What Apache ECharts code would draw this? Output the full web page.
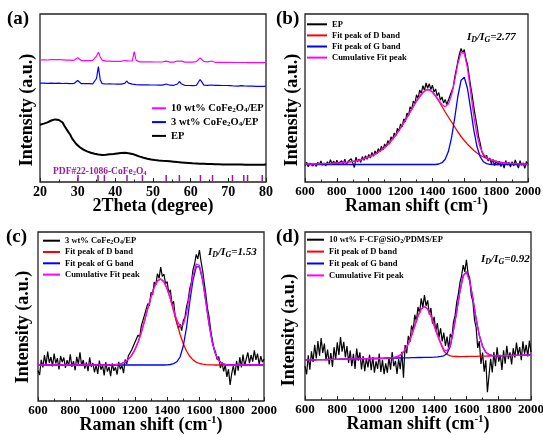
<!DOCTYPE html>
<html><head><meta charset="utf-8">
<script src="https://cdn.jsdelivr.net/npm/echarts/dist/echarts.min.js"></script>
<style>html,body{margin:0;padding:0;background:#fff;}#c{width:543px;height:435px;}</style>
</head><body><div id="c"></div>
<script>
// ---------- Panel (a): XRD ----------
const xrdX = [20,20.5,21,21.5,22,22.5,23,23.5,24,24.5,
25,25.5,26,26.5,27,27.5,28,28.5,29,29.5,
30,30.5,31,31.5,32,32.5,33,33.5,34,34.5,
35,35.5,36,36.5,37,37.5,38,38.5,39,39.5,
40,40.5,41,41.5,42,42.5,43,43.5,44,44.5,
45,45.5,46,46.5,47,47.5,48,48.5,49,49.5,
50,50.5,51,51.5,52,52.5,53,53.5,54,54.5,
55,55.5,56,56.5,57,57.5,58,58.5,59,59.5,
60,60.5,61,61.5,62,62.5,63,63.5,64,64.5,
65,65.5,66,66.5,67,67.5,68,68.5,69,69.5,
70,70.5,71,71.5,72,72.5,73,73.5,74,74.5,
75,75.5,76,76.5,77,77.5,78,78.5,79,79.5,80];
const xrdEP = [57.3,56.8,58.4,58.0,59.6,59.4,61.5,60.9,62.6,61.7,
62.0,60.2,59.5,56.0,54.2,50.1,47.5,43.6,41.9,38.5,
37.6,35.0,34.5,32.4,32.6,30.6,30.9,29.2,29.8,28.2,
28.9,27.5,28.4,27.1,28.2,27.3,28.6,27.7,28.9,28.1,
29.4,28.6,30.0,29.1,30.3,29.2,30.1,28.8,29.5,28.1,
28.5,26.8,27.1,25.4,25.8,24.2,24.7,23.2,23.7,22.4,
23.1,21.9,22.7,21.5,22.3,21.2,22.1,21.0,21.9,20.7,
21.5,20.3,21.1,19.9,20.7,19.6,20.4,19.3,20.2,19.0,
19.8,18.7,19.6,18.5,19.4,18.3,19.2,18.2,19.0,18.0,
18.9,17.9,18.7,17.8,18.6,17.7,18.5,17.6,18.4,17.6,
18.4,17.5,18.3,17.5,18.3,17.4,18.2,17.4,18.2,17.3,
18.1,17.3,18.1,17.3,18.0,17.2,18.0,17.2,17.9,17.2,17.8];
const xrd3wt = [98.8,98.3,98.9,98.2,98.7,98.4,98.9,98.1,98.6,98.2,
98.8,98.0,98.5,98.1,98.6,97.9,98.4,98.0,98.5,98.6,
101.5,100.2,98.3,97.8,98.3,97.9,98.4,97.8,98.2,98.6,
103.5,115.3,102.0,98.4,99.6,98.0,97.6,98.1,97.5,98.0,
97.4,97.9,97.4,97.8,97.5,98.6,101.0,98.9,97.4,97.8,
98.4,97.3,97.7,97.2,97.9,97.2,97.6,97.1,97.5,97.0,
97.4,97.0,97.3,96.9,97.3,96.9,97.4,98.0,97.1,96.8,
97.2,96.7,97.1,98.0,100.5,98.3,96.9,96.5,97.0,96.5,
96.9,96.4,96.8,96.5,98.2,102.5,99.8,96.9,96.4,96.7,
96.3,97.0,96.3,96.6,96.2,96.6,96.1,96.5,96.1,96.5,
96.1,96.4,96.7,96.0,96.3,95.9,96.3,96.4,97.1,96.0,
96.2,95.8,96.2,95.8,96.1,95.7,96.1,95.7,96.0,95.6,96.0];
const xrd10wt = [122.0,121.6,122.1,121.5,122.0,121.7,122.3,121.9,122.4,122.0,
122.5,121.8,122.2,121.6,121.9,121.3,121.8,121.2,121.7,122.0,
124.2,122.6,121.4,121.0,121.5,120.9,121.4,121.0,121.6,122.4,
125.8,129.7,125.0,121.9,121.7,120.9,121.3,120.8,121.2,120.7,
121.1,120.6,121.0,120.6,121.0,121.5,122.8,121.2,120.6,121.0,
130.3,121.8,120.5,120.1,120.7,120.2,120.6,120.1,120.6,120.1,
120.5,120.0,120.5,120.0,120.4,120.0,120.5,120.8,120.2,119.9,
120.4,119.9,120.3,121.0,122.0,120.9,120.1,119.8,120.2,119.8,
120.2,119.8,120.2,120.4,122.0,124.0,122.6,120.6,119.8,120.1,
120.3,121.0,120.0,119.7,120.1,119.6,120.0,119.6,120.0,119.6,
119.9,119.6,120.0,119.5,119.9,119.5,119.9,119.5,120.0,119.5,
119.8,119.4,119.8,119.4,119.8,119.4,119.7,119.3,119.7,119.3,119.7];
const pdfPos = [30.1,35.4,37.1,43.1,47.2,53.5,57.0,62.6,65.8,71.1,74.1,75.1,79.0];
const pdfHeight = [7,7,7,7,7,7,7,7,7,7,7,7,7];

// ---------- Raman x grids ----------
const ramanX = [600,610,620,630,640,650,660,670,680,690,
700,710,720,730,740,750,760,770,780,790,
800,810,820,830,840,850,860,870,880,890,
900,910,920,930,940,950,960,970,980,990,
1000,1010,1020,1030,1040,1050,1060,1070,1080,1090,
1100,1110,1120,1130,1140,1150,1160,1170,1180,1190,
1200,1210,1220,1230,1240,1250,1260,1270,1280,1290,
1300,1310,1320,1330,1340,1350,1360,1370,1380,1390,
1400,1410,1420,1430,1440,1450,1460,1470,1480,1490,
1500,1510,1520,1530,1540,1550,1560,1570,1580,1590,
1600,1610,1620,1630,1640,1650,1660,1670,1680,1690,
1700,1710,1720,1730,1740,1750,1760,1770,1780,1790,
1800,1810,1820,1830,1840,1850,1860,1870,1880,1890,
1900,1910,1920,1930,1940,1950,1960,1970,1980,1990,2000];
const fitX = [600,620,640,660,680,700,720,740,760,780,
800,820,840,860,880,900,920,940,960,980,
1000,1020,1040,1060,1080,1100,1120,1140,1160,1180,
1200,1220,1240,1260,1280,1300,1320,1340,1360,1380,
1400,1420,1440,1460,1480,1500,1520,1540,1560,1580,
1600,1620,1640,1660,1680,1700,1720,1740,1760,1780,
1800,1820,1840,1860,1880,1900,1920,1940,1960,1980,2000];

// ---------- Panel (b): EP ----------
const rawB = [16.5,19.8,15.2,18.9,20.5,16.0,18.7,15.4,19.6,17.3,
21.0,16.8,19.1,15.9,20.2,17.6,22.4,18.0,20.9,17.2,
21.8,18.5,16.9,21.2,18.3,22.9,17.4,20.6,19.0,23.3,
18.9,14.5,24.8,20.0,23.1,19.6,25.4,21.8,26.2,22.7,
27.5,23.9,29.6,25.8,31.0,27.9,33.4,30.2,35.8,32.1,
38.0,35.2,41.4,38.0,45.2,42.6,48.9,46.0,53.6,50.8,
58.0,55.1,63.2,60.4,69.0,66.1,75.3,72.5,81.0,78.4,
87.2,83.6,92.0,88.5,96.3,91.7,99.0,93.8,98.4,92.5,
96.8,89.9,93.0,86.2,89.5,81.8,85.0,78.9,82.6,77.5,
81.8,80.1,90.5,94.2,104.8,112.6,121.0,128.3,133.5,129.0,
132.4,123.0,117.6,106.5,96.0,86.4,74.8,65.2,56.0,45.3,
38.6,30.2,29.5,24.1,26.8,20.9,24.0,18.2,22.6,16.4,
21.3,17.0,20.8,15.5,19.9,13.8,21.5,17.1,19.6,14.9,
20.4,16.2,22.0,17.5,14.0,21.3,16.8,19.2,13.6,20.5,17.0];
const dFitB = [17.9,17.9,18.0,18.0,18.1,18.2,18.3,18.4,18.5,18.7,
18.9,19.1,19.4,19.7,20.1,20.6,21.2,21.9,22.7,23.7,
24.9,26.3,27.9,29.8,32.0,34.5,37.5,41.0,45.0,49.3,
54.0,59.0,64.5,70.0,75.5,81.0,85.5,89.5,92.1,92.2,
90.0,86.0,81.0,75.5,70.0,65.0,60.0,55.0,50.0,45.5,
41.5,37.8,34.5,31.5,29.0,26.8,25.0,23.5,22.3,21.3,
20.5,19.9,19.4,19.0,18.7,18.5,18.3,18.1,18.0,17.9,17.8];
const gFitB = [17.5,17.5,17.5,17.5,17.5,17.5,17.5,17.5,17.5,17.5,
17.5,17.5,17.5,17.5,17.5,17.5,17.5,17.5,17.5,17.5,
17.5,17.5,17.5,17.5,17.5,17.5,17.5,17.5,17.5,17.5,
17.5,17.5,17.5,17.5,17.5,17.5,17.5,17.5,17.5,17.5,
17.5,17.5,18.0,19.3,22.7,30.4,44.3,64.2,86.0,101.8,
104.8,93.5,73.1,51.7,35.2,25.2,20.3,18.4,17.7,17.5,
17.5,17.5,17.5,17.5,17.5,17.5,17.5,17.5,17.5,17.5,17.5];
const cumFitB = [17.9,17.9,18.0,18.0,18.1,18.2,18.3,18.4,18.5,18.7,
18.9,19.1,19.4,19.7,20.1,20.6,21.2,21.9,22.7,23.7,
24.9,26.3,27.9,29.8,32.0,34.5,37.5,41.0,45.0,49.3,
54.0,59.0,64.5,70.0,75.5,81.0,85.5,89.5,92.1,92.2,
90.0,86.0,81.5,77.3,75.2,77.9,86.8,101.7,118.5,129.8,
128.8,113.8,90.1,65.7,46.7,34.5,27.8,24.4,22.5,21.3,
20.5,19.9,19.4,19.0,18.7,18.5,18.3,18.1,18.0,17.9,17.8];

// ---------- Panel (c): 3 wt% CoFe2O4/EP ----------
const rawC = [30.5,26.0,41.2,33.5,45.8,36.0,49.5,38.2,44.0,34.7,
47.3,37.5,42.8,31.6,45.0,38.8,43.5,33.0,40.9,35.2,
46.6,34.1,39.8,30.7,44.2,36.9,48.7,35.3,41.0,32.4,
38.6,29.8,43.7,34.0,37.9,28.5,36.2,27.0,40.5,31.3,
35.8,25.6,38.9,29.4,34.1,24.8,37.5,30.2,33.7,26.5,
39.1,31.8,35.4,27.9,41.5,37.0,45.3,43.6,51.0,50.2,
58.4,57.1,66.0,63.8,75.2,73.5,86.1,84.4,97.3,95.0,
108.6,106.2,118.9,116.1,127.4,122.6,133.8,124.5,127.0,117.3,
119.4,108.0,111.2,96.5,99.8,84.3,86.0,72.6,76.9,70.3,
80.4,83.5,94.1,100.6,112.3,118.5,131.2,137.0,146.5,142.0,
150.8,139.5,130.4,118.0,106.3,92.4,84.0,70.5,60.8,52.6,
48.9,41.3,44.5,33.0,38.7,29.5,36.1,24.2,31.8,16.0,
27.4,35.5,25.6,40.2,30.3,43.8,33.6,46.5,35.0,42.1,
48.5,37.8,46.0,39.4,50.7,41.2,47.3,36.5,44.8,38.9,42.0];
const dFitC = [36,36,36,36,36,36,36,36,36,36,
36,36,36,36,36,36,36,36,36,36,
36.0,36.0,36.1,36.2,36.4,36.9,37.7,39.2,41.7,45.6,
51.3,59.0,68.8,80.2,92.4,104.1,113.8,120.1,122.0,119.2,
112.1,101.9,90.0,77.9,66.7,57.3,50.0,44.7,41.1,38.8,
37.5,36.8,36.4,36.2,36.1,36,36,36,36,36,
36,36,36,36,36,36,36,36,36,36,36];
const gFitC = [36,36,36,36,36,36,36,36,36,36,
36,36,36,36,36,36,36,36,36,36,
36,36,36,36,36,36,36,36,36,36,
36,36,36,36,36,36,36,36,36,36,
36.1,36.5,37.4,39.2,44.0,55.0,73.5,99.0,120.7,134.2,
134.2,120.7,99.0,76.4,58.3,46.7,40.4,37.6,36.5,36.1,
36,36,36,36,36,36,36,36,36,36,36];
const cumFitC = [36,36,36,36,36,36,36,36,36,36,
36,36,36,36,36,36,36,36,36,36,
36.0,36.0,36.1,36.2,36.4,36.9,37.7,39.2,41.7,45.6,
51.3,59.0,68.8,80.2,92.4,104.1,113.8,120.1,122.0,119.2,
112.2,102.4,91.4,81.1,74.7,76.3,87.5,107.7,125.8,137.0,
135.7,121.5,99.4,76.6,58.4,46.7,40.4,37.6,36.5,36.1,
36,36,36,36,36,36,36,36,36,36,36];

// ---------- Panel (d): 10 wt% F-CF@SiO2/PDMS/EP ----------
const rawD = [34.0,25.5,44.8,30.2,48.6,38.0,55.3,41.5,58.9,44.2,
62.0,47.1,56.4,39.8,50.5,35.6,47.0,33.1,52.8,40.4,
57.6,45.0,63.0,48.3,58.1,42.6,53.9,37.2,49.5,33.8,
46.2,31.0,51.4,39.3,47.7,30.6,44.0,28.9,41.8,32.5,
45.3,29.7,43.0,27.4,38.6,31.2,46.4,28.0,40.1,25.8,
36.7,27.3,42.5,30.4,47.9,33.7,39.2,26.1,41.0,30.8,
48.3,22.4,55.0,46.7,64.2,58.0,74.5,69.1,85.3,78.6,
93.0,86.8,101.7,92.4,104.9,94.1,99.6,85.5,92.0,76.3,
83.2,68.5,77.0,62.4,71.8,58.6,67.3,54.0,63.5,50.9,
66.1,62.0,78.4,84.6,97.9,106.2,117.5,124.0,134.8,128.1,
140.2,126.5,122.0,104.3,98.7,80.2,72.5,52.1,58.8,36.0,
47.5,28.3,39.6,7.7,24.8,41.2,27.5,48.0,33.9,52.6,
38.4,45.1,30.0,49.7,36.2,54.3,40.8,47.6,35.5,51.8,
42.3,57.4,44.9,53.0,39.7,58.6,46.2,55.1,43.5,59.3,48.0];
const dFitD = [40.0,40.1,40.1,40.2,40.3,40.4,40.4,40.5,40.6,40.6,
40.7,40.8,40.8,40.9,41.0,41.1,41.1,41.2,41.3,41.3,
41.4,41.5,41.5,41.6,41.7,41.8,41.8,42.2,42.8,43.8,
46.1,50.1,56.1,64.5,74.3,83.9,90.9,93.6,91.1,84.1,
74.7,65.1,56.8,49.0,45.6,44.2,43.6,43.5,43.4,43.4,
43.5,43.6,43.6,43.7,43.8,43.9,43.9,44.0,44.1,44.1,
44.2,44.3,44.3,44.4,44.5,44.6,44.6,44.7,44.8,44.8,44.9];
const gFitD = [40.0,40.1,40.1,40.2,40.3,40.4,40.4,40.5,40.6,40.6,
40.7,40.8,40.8,40.9,41.0,41.1,41.1,41.2,41.3,41.3,
41.4,41.5,41.5,41.6,41.7,41.8,41.8,41.9,42.0,42.0,
42.1,42.2,42.2,42.3,42.4,42.5,42.5,42.6,42.7,42.7,
42.8,43.1,43.6,44.2,46.6,53.7,70.0,88.7,109.0,124.2,
128.2,119.3,101.3,81.2,64.5,53.7,47.8,45.3,44.5,44.2,
44.2,44.3,44.3,44.4,44.5,44.6,44.6,44.7,44.8,44.8,44.9];
const cumFitD = [40.0,40.1,40.1,40.2,40.3,40.4,40.4,40.5,40.6,40.6,
40.7,40.8,40.8,40.9,41.0,41.1,41.1,41.2,41.3,41.3,
41.4,41.5,41.5,41.6,41.7,41.8,41.8,42.2,42.8,43.8,
46.1,50.1,56.1,64.5,74.3,83.9,90.9,93.6,91.1,84.1,
74.7,65.3,57.5,50.2,49.1,54.7,70.4,88.9,109.0,124.2,
128.2,119.3,101.3,81.2,64.5,53.7,47.8,45.3,44.5,44.2,
44.2,44.3,44.3,44.4,44.5,44.6,44.6,44.7,44.8,44.8,44.9];

const xrdTicks = {min:20, max:80, interval:10};
const ramanTicks = {min:600, max:2000, interval:200};

// ---------- chart ----------
const FF = '"Liberation Serif","Times New Roman",serif';
const zip = (xs, ys) => xs.map((x, i) => [x, ys[i]]);
const LABELS = {
  'a10':'10 wt% CoFe{sub|2}O{sub|4}/EP', 'a3':'3 wt% CoFe{sub|2}O{sub|4}/EP', 'aEP':'EP',
  'bEP':'EP', 'bD':'Fit peak of D band', 'bG':'Fit peak of G band', 'bC':'Cumulative Fit peak',
  'cEP':'3 wt% CoFe{sub|2}O{sub|4}/EP', 'cD':'Fit peak of D band', 'cG':'Fit peak of G band', 'cC':'Cumulative Fit peak',
  'dEP':'10 wt% F-CF@SiO{sub|2}/PDMS/EP', 'dD':'Fit peak of D band', 'dG':'Fit peak of G band', 'dC':'Cumulative Fit peak'
};
function line(name, idx, xs, ys, color, width, z) {
  return {name, type:'line', xAxisIndex:idx, yAxisIndex:idx, data:zip(xs, ys),
    showSymbol:false, symbol:'none', color, lineStyle:{color, width}, itemStyle:{color},
    z, silent:true, animation:false, emphasis:{disabled:true}};
}
const gridsDef = [
  {left:40, top:14, width:226, height:168},
  {left:305, top:14, width:223, height:168},
  {left:38, top:232, width:226, height:169},
  {left:305, top:232, width:226, height:168}
];
const yMax = [168, 168, 169, 168];
function xAxis(i, t, name, fs, gap) {
  return Object.assign({type:'value', gridIndex:i, name, nameLocation:'middle', nameGap:gap,
    nameMoveOverlap:false,
    nameTextStyle:{fontFamily:FF, fontWeight:'bold', fontSize:18, color:'#000', lineHeight:20,
      rich:{sup:{fontFamily:FF, fontWeight:'bold', fontSize:11, lineHeight:8, verticalAlign:'top', color:'#000'}}},
    axisLine:{show:false},
    axisTick:{show:true, inside:true, length:4, lineStyle:{color:'#222', width:1}},
    minorTick:{show:true, splitNumber:2, length:2.5, lineStyle:{color:'#222', width:1}},
    splitLine:{show:false}, minorSplitLine:{show:false},
    axisLabel:{fontFamily:FF, fontWeight:'bold', fontSize:fs, color:'#000', margin:3, hideOverlap:false,
      formatter:(v) => String(v)}}, t);
}
function yAxis(i) {
  return {type:'value', gridIndex:i, min:0, max:yMax[i], axisLine:{show:false}, axisTick:{show:false},
    axisLabel:{show:false}, splitLine:{show:false}};
}
function legend(data, left, top, iw, fs, lh, gap, subFs) {
  return {data, orient:'vertical', left, top, padding:0, itemWidth:iw, itemHeight:2, itemGap:gap,
    icon:'rect', selectedMode:false, formatter:(n) => LABELS[n],
    textStyle:{fontFamily:FF, fontWeight:'bold', fontSize:fs, lineHeight:lh, color:'#000',
      rich:{sub:{fontFamily:FF, fontWeight:'bold', fontSize:subFs, lineHeight:subFs*0.55, verticalAlign:'bottom', color:'#000'}}}};
}
const ratioStyle = {
  i:{fontFamily:FF, fontStyle:'italic', fontWeight:'bold', fontSize:11, lineHeight:13, color:'#000'},
  s:{fontFamily:FF, fontStyle:'italic', fontWeight:'bold', fontSize:8, lineHeight:5, verticalAlign:'bottom', color:'#000'}
};
const panelTxt = {fontFamily:FF, fontWeight:'bold', fontSize:19, color:'#000'};
function ylab(x, y) {
  return {type:'text', x, y, rotation:Math.PI/2, silent:true,
    style:{text:'Intensity (a.u.)', font:'bold 18px "Liberation Serif"', fill:'#000',
      textAlign:'center', textVerticalAlign:'middle', align:'center', verticalAlign:'middle'}};
}
const PURPLE = '#9a1c9a';
const ramanName = 'Raman shift (cm{sup|-1})';

const option = {
  backgroundColor:'#fff',
  animation:false,
  grid: gridsDef.map(g => Object.assign({show:true, borderColor:'#222', borderWidth:1.3,
    backgroundColor:'transparent', containLabel:false, outerBoundsMode:'none'}, g)),
  xAxis: [
    xAxis(0, xrdTicks, '2Theta (degree)', 14, 14),
    xAxis(1, ramanTicks, ramanName, 13, 14),
    xAxis(2, ramanTicks, ramanName, 13, 14),
    xAxis(3, ramanTicks, ramanName, 13, 14)
  ],
  yAxis: [yAxis(0), yAxis(1), yAxis(2), yAxis(3)],
  legend: [
    legend(['a10','a3','aEP'], 152, 102.8, 14, 10.5, 11, 2.8, 7),
    legend(['bEP','bD','bG','bC'], 307, 19.5, 20, 8.5, 9.6, 1.5, 6),
    legend(['cEP','cD','cG','cC'], 43, 235.9, 17, 8.5, 9.6, 1.7, 6),
    legend(['dEP','dD','dG','dC'], 307, 234.9, 17, 8.5, 9.6, 2.3, 6)
  ],
  title: [
    {text:'(a)', left:7, top:10, padding:0, textStyle:panelTxt},
    {text:'(b)', left:276, top:10, padding:0, textStyle:panelTxt},
    {text:'(c)', left:6, top:228, padding:0, textStyle:panelTxt},
    {text:'(d)', left:276, top:228, padding:0, textStyle:panelTxt},
    {text:'{i|I}{s|D}{i|/I}{s|G}{i|=2.77}', left:467, top:31, padding:0, textStyle:{rich:ratioStyle}},
    {text:'{i|I}{s|D}{i|/I}{s|G}{i|=1.53}', left:208, top:246, padding:0, textStyle:{rich:ratioStyle}},
    {text:'{i|I}{s|D}{i|/I}{s|G}{i|=0.92}', left:481, top:253, padding:0, textStyle:{rich:ratioStyle}},
    {text:'PDF#22-1086-CoFe{s|2}O{s|4}', left:53, top:166, padding:0,
      textStyle:{fontFamily:FF, fontWeight:'bold', fontSize:9.5, lineHeight:11, color:PURPLE,
        rich:{s:{fontFamily:FF, fontWeight:'bold', fontSize:6.5, lineHeight:3.5, verticalAlign:'bottom', color:PURPLE}}}}
  ],
  graphic: [ylab(27.5, 110), ylab(292.5, 110), ylab(23.5, 327), ylab(289, 330)],
  series: [
    line('aEP', 0, xrdX, xrdEP, '#000000', 2, 2),
    line('a3', 0, xrdX, xrd3wt, '#0000ff', 1.2, 3),
    line('a10', 0, xrdX, xrd10wt, '#ff00ff', 1.2, 4),
    {name:'pdf', type:'bar', xAxisIndex:0, yAxisIndex:0, data:zip(pdfPos, pdfHeight), barWidth:1.5,
      itemStyle:{color:PURPLE}, silent:true, animation:false, z:2},
    line('bEP', 1, ramanX, rawB, '#000000', 1.2, 2),
    line('bD', 1, fitX, dFitB, '#ff0000', 1.3, 3),
    line('bG', 1, fitX, gFitB, '#0000ff', 1.3, 4),
    line('bC', 1, fitX, cumFitB, '#ff00ff', 1.3, 5),
    line('cEP', 2, ramanX, rawC, '#000000', 1.2, 2),
    line('cD', 2, fitX, dFitC, '#ff0000', 1.3, 3),
    line('cG', 2, fitX, gFitC, '#0000ff', 1.3, 4),
    line('cC', 2, fitX, cumFitC, '#ff00ff', 1.3, 5),
    line('dEP', 3, ramanX, rawD, '#000000', 1.2, 2),
    line('dD', 3, fitX, dFitD, '#ff0000', 1.3, 3),
    line('dG', 3, fitX, gFitD, '#0000ff', 1.3, 4),
    line('dC', 3, fitX, cumFitD, '#ff00ff', 1.3, 5)
  ]
};
const chart = echarts.init(document.getElementById('c'), null, {renderer:'canvas'});
chart.setOption(option);
</script></body></html>
